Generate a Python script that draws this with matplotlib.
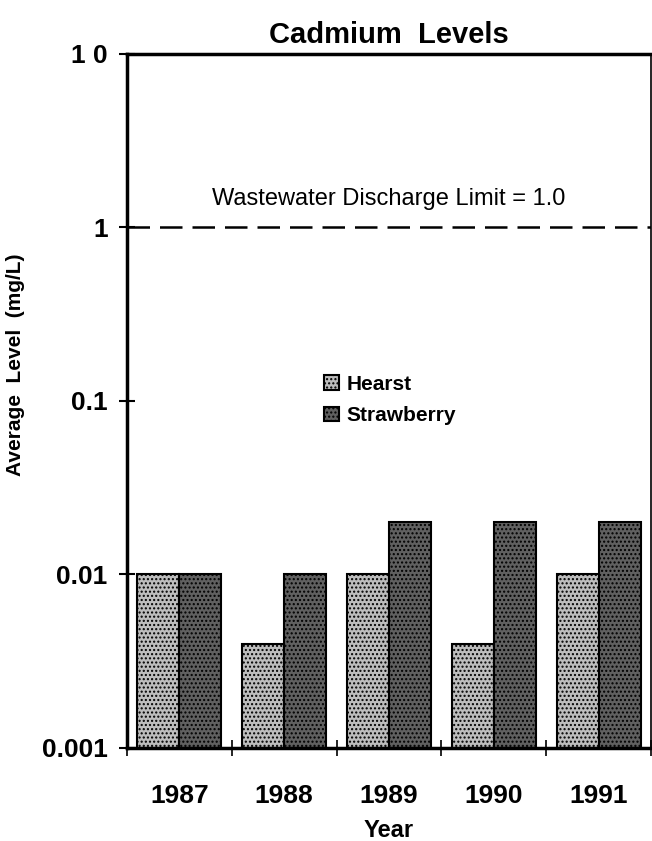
import numpy as np
import matplotlib.pyplot as plt

plt.rcParams['font.family'] = ['Liberation Sans', 'DejaVu Sans']

# данные
years = ["1987", "1988", "1989", "1990", "1991"]
hearst = [0.01, 0.004, 0.01, 0.004, 0.01]
strawberry = [0.01, 0.01, 0.02, 0.02, 0.02]
limit = 1.0

x = np.arange(len(years))
w = 0.4

fig = plt.figure(figsize=(6.52, 8.41), dpi=100)
ax = fig.add_axes([0.1948, 0.1106, 0.8037, 0.8252])
ax.set_yscale("log")

ax.bar(x - w / 2, hearst, w, color="#bdbdbd", edgecolor="black",
       linewidth=1.5, hatch="....", label="Hearst")
ax.bar(x + w / 2, strawberry, w, color="#606060", edgecolor="black",
       linewidth=1.5, hatch="....", label="Strawberry")

ax.axhline(limit, color="black", linestyle=(0, (9, 4)), linewidth=1.8)
ax.text(2.0, 1.45, "Wastewater Discharge Limit = 1.0", ha="center", va="center",
        fontsize=17)

ax.set_ylim(0.001, 10)
ax.set_xlim(-0.5, 4.5)
ax.set_yticks([0.001, 0.01, 0.1, 1, 10])
ax.set_yticklabels(["0.001", "0.01", "0.1", "1", "1 0"], fontsize=19, fontweight="bold")
ax.yaxis.set_minor_locator(plt.NullLocator())
ax.tick_params(axis="y", direction="inout", length=12, width=1.5, pad=8)

ax.set_xticks(x)
ax.set_xticklabels(years, fontsize=19, fontweight="bold")
ax.set_xticks(np.arange(-0.5, 5, 1), minor=True)
ax.tick_params(axis="x", which="major", length=0, pad=26)
ax.tick_params(axis="x", which="minor", direction="inout", length=12, width=1.2)

for side in ["left", "bottom", "top"]:
    ax.spines[side].set_linewidth(2.5)
ax.spines["right"].set_linewidth(1.2)

ax.set_title("Cadmium  Levels", fontsize=21, fontweight="bold", pad=8)
ax.set_xlabel("Year", fontsize=17, fontweight="bold", labelpad=8)
ax.set_ylabel("Average  Level  (mg/L)", fontsize=15, fontweight="bold")
ax.yaxis.set_label_coords(-0.195, 0.552)

ax.legend(frameon=False, loc="upper left", bbox_to_anchor=(0.34, 0.565),
          prop={"weight": "bold", "size": 15}, handlelength=0.7,
          handleheight=0.7, labelspacing=0.6, handletextpad=0.4)

plt.savefig("out.png", dpi=100)
plt.close()
